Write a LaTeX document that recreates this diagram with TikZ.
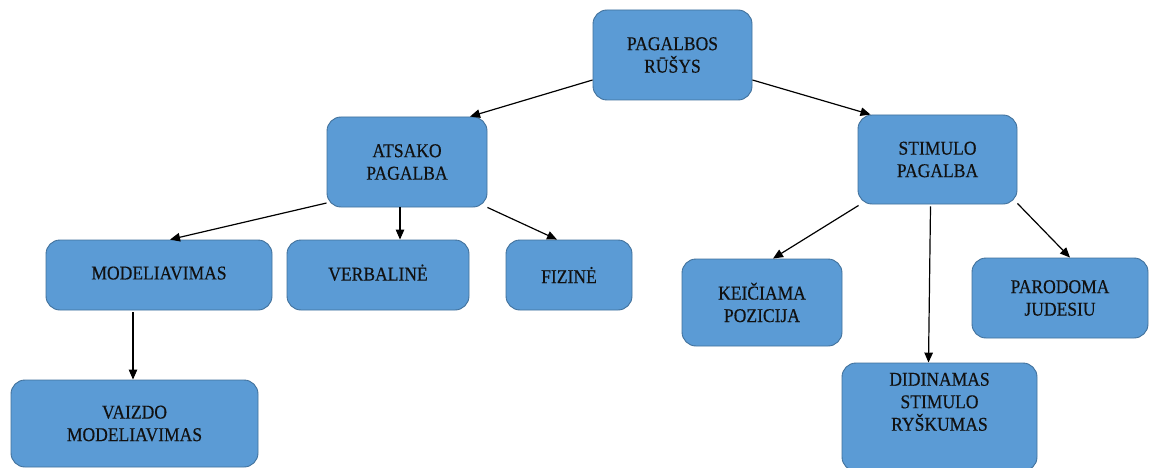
\documentclass[tikz,border=0pt]{standalone}
\usepackage{fontspec}
\setmainfont[FakeStretch=0.9,FakeBold=0.4]{Liberation Serif}
\usetikzlibrary{arrows.meta}
\definecolor{boxfill}{HTML}{5B9BD5}
\definecolor{boxline}{HTML}{41719C}
\definecolor{txt}{HTML}{111111}
\begin{document}
\begin{tikzpicture}[x=1pt,y=-1pt,
  box/.style={draw=boxline, line width=0.9pt, fill=boxfill, rounded corners=14pt,
    align=center, text=txt, inner sep=0pt,
    font=\fontsize{19.5}{22.5}\selectfont},
  arr/.style={draw=black, line width=1.2pt, -{Triangle[length=10pt,width=8.5pt]}}]
\useasboundingbox (0,0) rectangle (1150,468);
\fill[white] (0,0) rectangle (1150,468);

\node[box, minimum width=159pt, minimum height=90pt] (root) at (672.5,55) {PAGALBOS\\RŪŠYS};
\node[box, minimum width=160pt, minimum height=90pt] (atsako) at (407,162) {ATSAKO\\PAGALBA};
\node[box, minimum width=159pt, minimum height=89pt] (stimulo) at (937.5,159.5) {STIMULO\\PAGALBA};
\node[box, minimum width=226pt, minimum height=70pt] (model) at (159,275) {\raisebox{4pt}{MODELIAVIMAS}};
\node[box, minimum width=182pt, minimum height=70pt] (verbal) at (378,275) {\raisebox{5pt}{VERBALINĖ}};
\node[box, minimum width=126pt, minimum height=70pt] (fizine) at (569,275) {FIZINĖ};
\node[box, minimum width=160pt, minimum height=87pt] (keic) at (762,302.5) {KEIČIAMA\\POZICIJA};
\node[box, minimum width=176pt, minimum height=80pt] (parod) at (1060,298) {PARODOMA\\JUDESIU};
\node[box, minimum width=195pt, minimum height=108pt] (didin) at (939.5,417) {DIDINAMAS\\STIMULO\\RYŠKUMAS\\[8pt]};
\node[box, minimum width=247pt, minimum height=87pt] (vaizdo) at (134.5,423.5) {VAIZDO\\MODELIAVIMAS};

\draw[arr] ([yshift=-25pt]root.west) -- ([xshift=63pt]atsako.north);
\draw[arr] ([yshift=-25pt]root.east) -- ([xshift=-67pt]stimulo.north);
\draw[arr] ([yshift=-41pt]atsako.west) -- ([xshift=11pt]model.north);
\draw[arr] ([xshift=-7pt]atsako.south) -- ([xshift=22pt]verbal.north);
\draw[arr] (atsako.south east) -- ([xshift=-12pt]fizine.north);
\draw[arr] ([xshift=1pt,yshift=-1pt]stimulo.south west) -- ([xshift=11pt]keic.north);
\draw[arr] ([xshift=-7pt,yshift=-2pt]stimulo.south) -- ([xshift=-11pt]didin.north);
\draw[arr] ([yshift=1pt]stimulo.south east) -- ([xshift=10pt]parod.north);
\draw[arr] ([xshift=-26pt,yshift=-2pt]model.south) -- ([xshift=-1.5pt]vaizdo.north);
\end{tikzpicture}
\end{document}
